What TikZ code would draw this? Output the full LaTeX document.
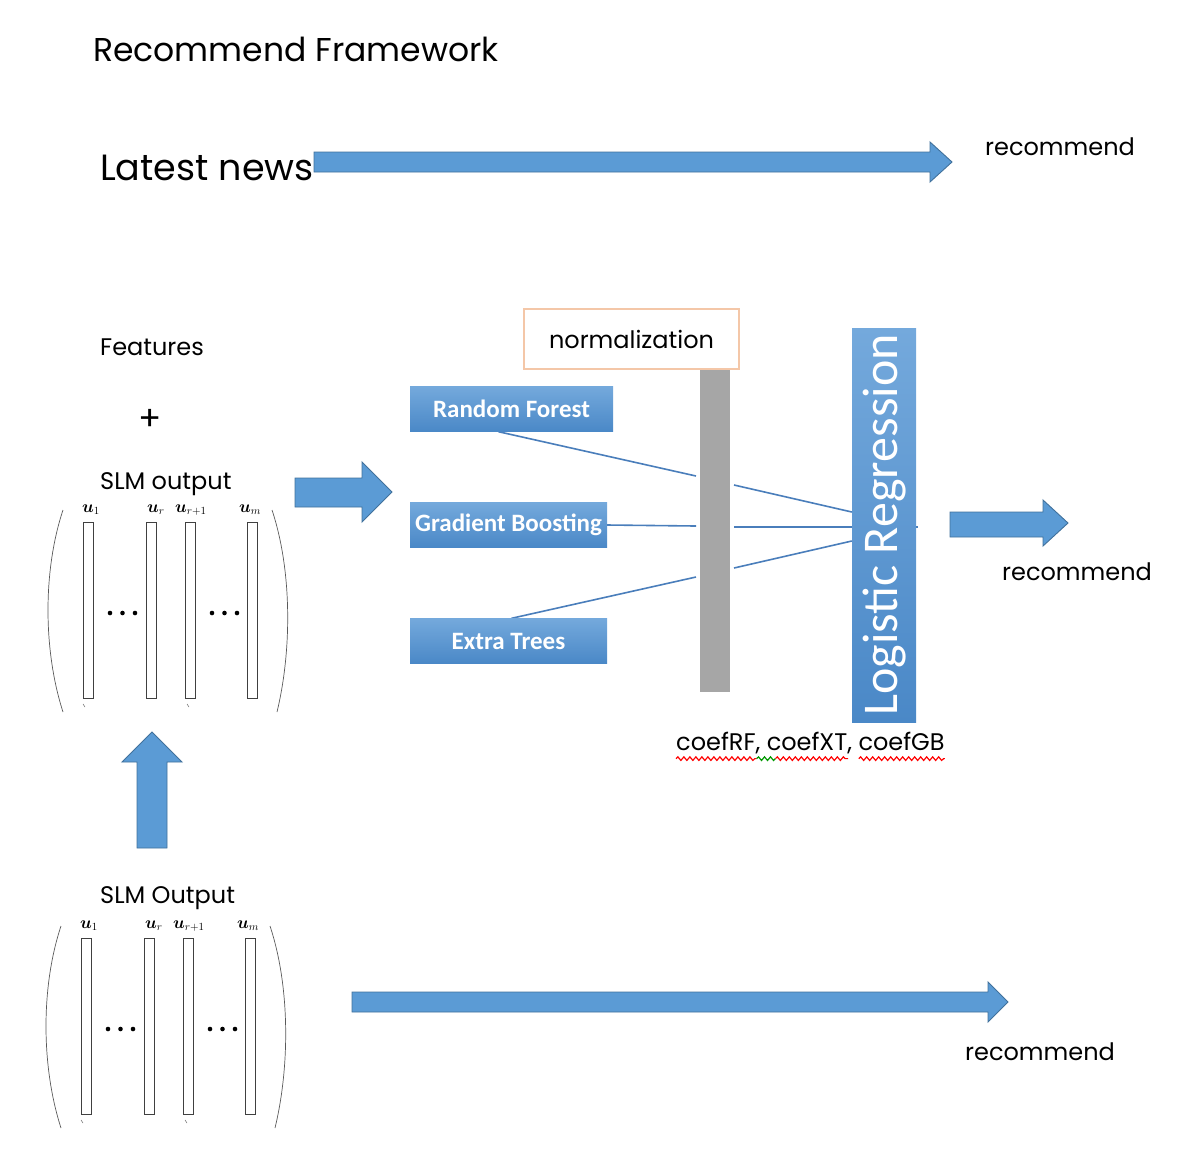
\documentclass[tikz,border=0pt]{standalone}
\usepackage{amsmath,bm}
\usepackage{fontspec}
\setmainfont{Poppins}
\newfontfamily\calib{Carlito}
\usetikzlibrary{positioning,calc,backgrounds,decorations.pathmorphing}
\definecolor{arrfill}{HTML}{5B9BD5}
\definecolor{arrdraw}{HTML}{41719C}
\definecolor{boxtop}{HTML}{74A9DC}
\definecolor{boxbot}{HTML}{4A88C7}
\definecolor{linkc}{HTML}{4A7EBB}
\definecolor{normc}{HTML}{F4C7A8}
\tikzset{
  txt/.style    ={inner sep=0pt, anchor=base west, font=\fontsize{24}{28}\selectfont},
  mbox/.style   ={top color=boxtop, bottom color=boxbot, draw=none, inner sep=0pt,
                  minimum height=45pt, text=white, font=\calib\bfseries\fontsize{25}{28}\selectfont},
  lrbox/.style  ={top color=boxtop, bottom color=boxbot, draw=none,
                  minimum width=64pt, minimum height=394pt},
  normbox/.style={draw=normc, line width=1.2pt, fill=white, minimum width=215pt,
                  minimum height=60pt, font=\fontsize{24}{28}\selectfont},
  barnode/.style={fill=black!35, draw=none, minimum width=30pt, minimum height=322pt},
  link/.style   ={draw=linkc, line width=1.6pt},
  barrow/.style ={fill=arrfill, draw=arrdraw, line width=0.9pt, line join=miter},
  col/.style    ={draw=black!75, line width=0.6pt, fill=white},
  paren/.style  ={draw=black!65, line width=0.7pt},
  ulbl/.style   ={inner sep=0pt, anchor=base west, font=\fontsize{16}{18}\selectfont},
  spell/.style  ={line width=1.2pt, decorate,
                  decoration={snake, amplitude=1.8pt, segment length=6pt}},
}
% one SLM output matrix, shifted
\newcommand{\slmmat}[2]{%
  \begin{scope}[shift={(#1,#2)}]
    \draw[paren] (63,510) .. controls (43,570) and (43,650) .. (63,712);
    \draw[paren] (272,510) .. controls (292,570) and (292,650) .. (277,712);
    \foreach \cx in {83,146,185,247}
      \draw[col] (\cx,522) rectangle ++(10,176);
    \node[ulbl] at (82,512) {$\boldsymbol{u}_1$};
    \node[ulbl] at (147,512) {$\boldsymbol{u}_r$};
    \node[ulbl] at (175,512) {$\boldsymbol{u}_{r+1}$};
    \node[ulbl] at (239,512) {$\boldsymbol{u}_m$};
    \foreach \dx in {110,122.5,135,212,224.5,237}
      \fill (\dx,613) circle (2.3);
    \draw[black!60, line width=0.5pt] (83,704) -- (85,707);
    \draw[black!60, line width=0.5pt] (187,704) -- (189,707);
  \end{scope}}

\begin{document}
\begin{tikzpicture}[x=1pt, y=-1pt]
\useasboundingbox (0,0) rectangle (1182,1152);

% ---- titles and labels ----
\node[txt, font=\fontsize{33}{38}\selectfont] (title) at (93,61) {Recommend Framework};
\node[txt, font=\fontsize{36.5}{42}\selectfont] (news) at (100,180) {Latest news};
\node[txt] (rec1) at (985,155) {recommend};
\node[txt] (feat) at (100,355) {Features};
\node[txt, anchor=center, font=\fontsize{34}{38}\selectfont] (plus) at (150,420) {+};
\node[txt] (slm1) at (100,489) {SLM output};
\node[txt] (slm2) at (100,903) {SLM Output};
\node[txt] (rec2) at (1002,580) {recommend};
\node[txt] (rec3) at (965,1060) {recommend};

% ---- block arrows ----
\draw[barrow] (314,152) -- (930,152) -- (930,142) -- (952,162) -- (930,182)
  -- (930,172) -- (314,172) -- cycle;
\draw[barrow] (295,478) -- (362,478) -- (362,462) -- (392,492) -- (362,522)
  -- (362,507) -- (295,507) -- cycle;
\draw[barrow] (950,512) -- (1043,512) -- (1043,500) -- (1068,523) -- (1043,546)
  -- (1043,537) -- (950,537) -- cycle;
\draw[barrow] (137,848) -- (137,762) -- (122,762) -- (152,732) -- (182,762)
  -- (167,762) -- (167,848) -- cycle;
\draw[barrow] (352,992) -- (988,992) -- (988,982) -- (1008,1002) -- (988,1022)
  -- (988,1012) -- (352,1012) -- cycle;

% ---- matrices ----
\slmmat{0}{0}
\slmmat{-2}{416}

% ---- ensemble ----
\node[mbox, minimum width=203pt] (rf) at (511.5,409) {Random Forest};
\node[mbox, minimum width=197pt] (gb) at (508.5,525) {Gradient Boosting};
\node[mbox, minimum width=197pt] (et) at (508.5,641) {Extra Trees};
\node[normbox] (norm) at (631.5,339) {normalization};
\node[barnode] (bar) at (715,531) {};
\node[lrbox] (lr) at (884,525) {};
\node[rotate=90, text=white, font=\calib\fontsize{50}{56}\selectfont] (lrtxt) at (lr.center) {Logistic Regression};

\coordinate (nl1) at (696,476);
\coordinate (nl2) at (696,526);
\coordinate (nl3) at (696,577);
\coordinate (nr1) at (734,485);
\coordinate (nr2) at (734,527);
\coordinate (nr3) at (734,568);

\begin{scope}[on background layer]
\draw[link] ($(rf.south)+(-13,0)$) -- (nl1);
\draw[link] (gb.east) -- (nl2);
\draw[link] ($(et.north)+(3,0)$) -- (nl3);
\draw[link] (nr1) -- ($(lr.west)+(0,-13)$);
\draw[link] (nr2) -- ($(lr.east)+(2,2)$);
\draw[link] (nr3) -- ($(lr.west)+(0,16)$);
\end{scope}

% ---- coefficients ----
\node[txt] (coef) at (676,750) {coefRF, coefXT, coefGB};
\draw[spell, red] ($(coef.south west)!0.0!(coef.south east)+(0,5)$) -- ($(coef.south west)!0.30!(coef.south east)+(0,5)$);
\draw[spell, green!60!black] ($(coef.south west)!0.30!(coef.south east)+(0,5)$) -- ($(coef.south west)!0.37!(coef.south east)+(0,5)$);
\draw[spell, red] ($(coef.south west)!0.37!(coef.south east)+(0,5)$) -- ($(coef.south west)!0.64!(coef.south east)+(0,5)$);
\draw[spell, red] ($(coef.south west)!0.68!(coef.south east)+(0,5)$) -- ($(coef.south west)!1.0!(coef.south east)+(0,5)$);

\end{tikzpicture}
\end{document}
